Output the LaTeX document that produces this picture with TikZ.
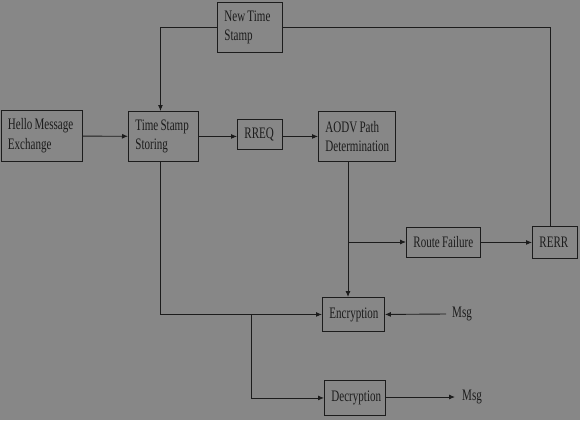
\documentclass[tikz,border=0pt]{standalone}
\usepackage{fontspec}
\setmainfont[FakeStretch=0.69]{Liberation Serif}
\usetikzlibrary{arrows.meta}
\definecolor{bggray}{RGB}{135,135,135}
\definecolor{ink}{RGB}{28,28,28}
\newcommand\boxfont{\fontsize{16}{19.7}\selectfont\hyphenpenalty=10000\relax\hbadness=10000\relax\hfuzz=30pt\relax}
\tikzset{
  lbl/.style={text=ink, font=\boxfont},
  box/.style={lbl, draw=ink, line width=0.9pt, rectangle, anchor=north west, inner xsep=7pt, inner ysep=0pt, align=left,
    execute at begin node={\spaceskip=2.2pt\relax}},
  link/.style={draw=ink, line width=0.9pt, -{Latex[length=6pt,width=5pt]}},
  wire/.style={draw=ink, line width=0.9pt}
}
\begin{document}
\begin{tikzpicture}[x=1pt,y=-1pt]
        % \draw[help lines, gray!50, very thin] (0,0) grid (580,420);
        \fill[bggray] (0,0) rectangle (580,420);
        \useasboundingbox (0,0) rectangle (580,420);

        \node[box, text width=51pt, minimum height=50pt] (stamp) at (217,2) {New~Time\\Stamp};
        \node[box, text width=67pt, minimum height=51pt] (hello) at (0.5,110) {Hello~Message\\Exchange};
        \node[box, text width=56pt, minimum height=50pt] (store) at (128,111) {Time~Stamp\\Storing};
        \node[box, text width=31pt, minimum height=30pt] (rreq) at (237,119) {RREQ};
        \node[box, text width=63pt, minimum height=50pt] (aodv) at (318,111) {AODV~Path\\Determination};
        \node[box, text width=60pt, minimum height=30pt] (fail) at (406,227) {Route~Failure};
        \node[box, text width=31pt, minimum height=32pt] (rerr) at (532,226) {RERR};
        \node[box, text width=48pt, minimum height=34pt] (enc) at (322,297) {Encryption};
        \node[box, text width=47pt, minimum height=35pt] (dec) at (324,380) {Decryption};

        \node[lbl, anchor=west, inner sep=6pt] (msgin) at (446,314) {Msg};
        \node[lbl, anchor=west, inner sep=7pt] (msgout) at (455,397) {Msg};

        \coordinate (split) at (348,242);
        \coordinate (fork) at (251,314);

        % main flow
        \draw[link] (hello) -- (store);
        \draw[link] (store.east) -- (store.east -| rreq.west);
        \draw[link] (store.east -| rreq.east) -- (store.east -| aodv.west);
        \draw[link] (aodv.south -| split) -- (enc.north -| split);
        \draw[link] (split) -- (split -| fail.west);
        \draw[link] (fail) -- (rerr);

        % feedback via new time stamp
        \draw[wire] ([xshift=-5pt]rerr.north) |- (stamp.east);
        \draw[link] (stamp.west) -| ([xshift=-3pt]store.north);

        % encryption / decryption
        \draw[link] ([xshift=-3pt]store.south) |- (enc.west);
        \draw[link] (fork) |- (dec.west);
        \draw[link] (msgin.west) -- (enc.east);
        \draw[link] (dec.east |- msgout.west) -- (msgout.west);
      \end{tikzpicture}
\end{document}
